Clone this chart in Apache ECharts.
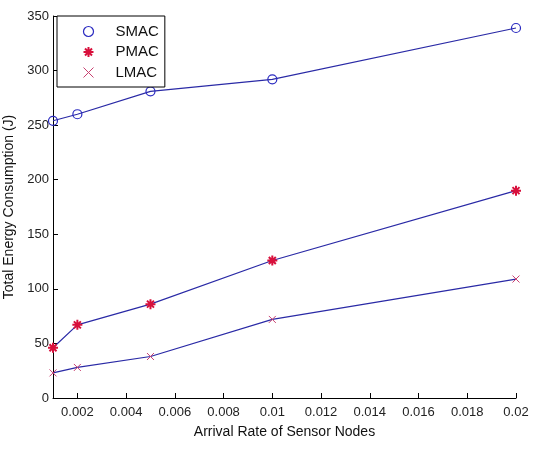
<!DOCTYPE html>
<html>
<head>
<meta charset="utf-8">
<script src="https://cdn.jsdelivr.net/npm/echarts@6/dist/echarts.min.js"></script>
<style>
  html, body { margin: 0; padding: 0; background: #fff; }
  #chart { width: 542px; height: 453px; }
</style>
</head>
<body>
<div id="chart"></div>
<script>
  // arrival rates (x) and energy values (y)
  var rates = [0.001, 0.002, 0.005, 0.01, 0.02];
  var smac = [254, 260, 281, 292, 339];
  var pmac = [46, 67, 86, 126, 190];
  var lmac = [23, 28, 38, 72, 109];
  var xTicks = [0.002, 0.004, 0.006, 0.008, 0.01, 0.012, 0.014, 0.016, 0.018, 0.02];

  var lineBlue = '#2a2aa6';
  var starPath = 'path://M0,-10L0,10M-10,0L10,0M-7,-7L7,7M-7,7L7,-7';
  var crossPath = 'path://M-6,-6L6,6M-6,6L6,-6';

  function pairs(ys) {
    return rates.map(function (x, i) { return [x, ys[i]]; });
  }

  var myChart = echarts.init(document.getElementById('chart'));
  var option = {
    animation: false,
    textStyle: { fontFamily: 'Liberation Sans, Arial, sans-serif' },
    grid: { left: 53, right: 26, top: 16, bottom: 55, outerBoundsMode: 'none' },
    legend: {
      orient: 'vertical',
      left: 57,
      top: 16,
      padding: [8, 6, 7, 24],
      itemWidth: 10,
      itemHeight: 10,
      itemGap: 5.5,
      borderColor: '#000',
      borderWidth: 1,
      backgroundColor: '#fff',
      textStyle: { fontSize: 15, color: '#111', padding: [0, 0, 0, 17] },
      data: [
        { name: 'SMAC', icon: 'circle', itemStyle: { color: 'none', borderColor: '#2a2ac0', borderWidth: 1.2 } },
        { name: 'PMAC', icon: starPath, itemStyle: { color: 'none', borderColor: '#d8103c', borderWidth: 2 } },
        { name: 'LMAC', icon: crossPath, itemStyle: { color: 'none', borderColor: '#c84070', borderWidth: 1 } }
      ]
    },
    xAxis: {
      type: 'value',
      min: 0.001,
      max: 0.02,
      name: 'Arrival Rate of Sensor Nodes',
      nameLocation: 'middle',
      nameGap: 27,
      nameTextStyle: { fontSize: 14, color: '#111' },
      splitLine: { show: false },
      axisLine: { lineStyle: { color: '#000', width: 1 } },
      axisTick: { inside: true, length: 5, customValues: xTicks, lineStyle: { color: '#000' } },
      axisLabel: {
        customValues: xTicks,
        fontSize: 13,
        color: '#222',
        margin: 8,
        formatter: function (v) { return String(v); }
      }
    },
    yAxis: {
      type: 'value',
      min: 0,
      max: 350,
      interval: 50,
      name: 'Total Energy Consumption (J)',
      nameLocation: 'middle',
      nameGap: 36,
      nameTextStyle: { fontSize: 14, color: '#111' },
      splitLine: { show: false },
      axisLine: { show: true, lineStyle: { color: '#000', width: 1 } },
      axisTick: { show: true, inside: true, length: 5, lineStyle: { color: '#000' } },
      axisLabel: { fontSize: 13, color: '#222', margin: 4 }
    },
    series: [
      {
        name: 'SMAC',
        type: 'line',
        data: pairs(smac),
        symbol: 'circle',
        symbolSize: 9,
        lineStyle: { color: lineBlue, width: 1.2 },
        itemStyle: { color: 'none', borderColor: '#2a2ac0', borderWidth: 1.2 }
      },
      {
        name: 'PMAC',
        type: 'line',
        data: pairs(pmac),
        symbol: starPath,
        symbolSize: 10,
        lineStyle: { color: lineBlue, width: 1.2 },
        itemStyle: { color: 'none', borderColor: '#d8103c', borderWidth: 2 }
      },
      {
        name: 'LMAC',
        type: 'line',
        data: pairs(lmac),
        symbol: crossPath,
        symbolSize: 7,
        lineStyle: { color: lineBlue, width: 1.2 },
        itemStyle: { color: 'none', borderColor: '#c84070', borderWidth: 1 }
      }
    ]
  };
  myChart.setOption(option);
</script>
</body>
</html>
